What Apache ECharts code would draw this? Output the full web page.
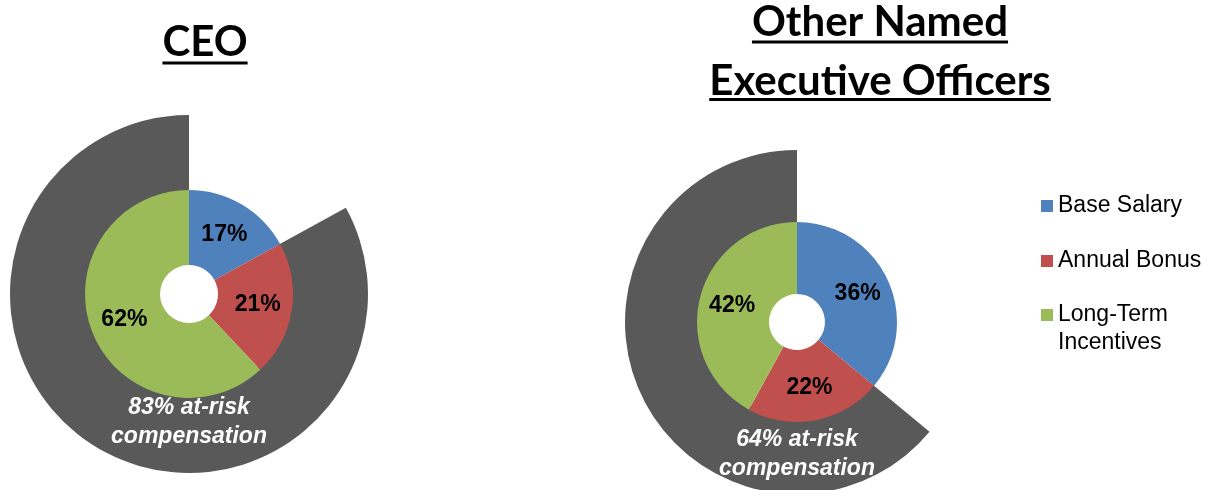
<!DOCTYPE html>
<html>
<head>
<meta charset="utf-8">
<script src="https://cdn.jsdelivr.net/npm/echarts@6/dist/echarts.min.js"></script>
<style>
html,body{margin:0;padding:0;background:#fff;}
#chart{width:1207px;height:490px;}
</style>
</head>
<body>
<div id="chart"></div>
<script>
// ---- data ----
const categories = ['Base Salary', 'Annual Bonus', 'Long-Term Incentives'];
const ceoValues = [17, 21, 62];
const neoValues = [36, 22, 42];
const ceoAtRisk = 83;
const neoAtRisk = 64;
const ceoTitle = ['CEO'];
const neoTitle = ['Other Named', 'Executive Officers'];
const atRiskLabel = 'at-risk\ncompensation';

// ---- styling / layout ----
const colors = ['#4F81BD', '#C0504D', '#9BBB59'];
const darkColor = '#595959';
const ceoLayout = {cx: 189, cy: 294, hole: 29, inner: 104, outer: 179, labelDy: 128, titleX: 205, titleY: [42], lineY: [63]};
const neoLayout = {cx: 797, cy: 322, hole: 28, inner: 100, outer: 172, labelDy: 132, titleX: 880, titleY: [22, 81], lineY: [42, 99.5]};
const titleFont = {size: 42, weight: 'bold', family: 'Lato'};
const labelFamily = '"Liberation Sans", Arial, sans-serif';

const chart = echarts.init(document.getElementById('chart'), null, {renderer: 'canvas'});

function ringSeries(values, atRisk, L) {
  return {
    type: 'pie', silent: true, animation: false,
    center: [L.cx, L.cy], radius: [L.inner - 4, L.outer],
    startAngle: 90, clockwise: true, avoidLabelOverlap: false,
    label: {show: false}, labelLine: {show: false},
    emphasis: {disabled: true},
    data: [
      {name: 'gap', value: values[0], itemStyle: {color: 'rgba(0,0,0,0)'}},
      {name: 'At-risk', value: atRisk, itemStyle: {color: darkColor}}
    ]
  };
}
function innerSeries(values, L) {
  return {
    type: 'pie', animation: false,
    center: [L.cx, L.cy], radius: [L.hole, L.inner],
    startAngle: 90, clockwise: true, avoidLabelOverlap: false,
    itemStyle: {borderWidth: 0},
    label: {show: true, position: 'inside', formatter: '{c}%', color: '#000',
            fontSize: 23, fontWeight: 'bold', fontFamily: labelFamily, textBorderWidth: 0},
    labelLine: {show: false},
    emphasis: {scale: false},
    data: categories.map((c, i) => ({name: c, value: values[i], itemStyle: {color: colors[i]}}))
  };
}

const measureCtx = document.createElement('canvas').getContext('2d');
function titleGraphics(lines, L) {
  const out = [];
  measureCtx.font = titleFont.weight + ' ' + titleFont.size + 'px ' + titleFont.family;
  lines.forEach((t, i) => {
    const w = measureCtx.measureText(t).width;
    out.push({type: 'text', silent: true, z: 100, style: {
      text: t, x: L.titleX, y: L.titleY[i], align: 'center', verticalAlign: 'middle',
      fontSize: titleFont.size, fontWeight: titleFont.weight, fontFamily: titleFont.family, fill: '#000'}});
    out.push({type: 'rect', silent: true, z: 100, shape: {x: L.titleX - w / 2, y: L.lineY[i] - 1.5, width: w, height: 3},
      style: {fill: '#000'}});
  });
  return out;
}
function atRiskGraphic(atRisk, L) {
  return {type: 'text', silent: true, z: 100, style: {
    text: atRisk + '% ' + atRiskLabel, x: L.cx, y: L.cy + L.labelDy,
    align: 'center', verticalAlign: 'middle', lineHeight: 29,
    fontSize: 23, fontWeight: 'bold', fontStyle: 'italic', fontFamily: labelFamily, fill: '#fff'}};
}

const legendText = {fontSize: 23, fontFamily: labelFamily, color: '#000', lineHeight: 28};
const option = {
  backgroundColor: '#fff',
  animation: false,
  legend: [
    {orient: 'vertical', left: 1041, top: 192, padding: 0, itemGap: 27,
     itemWidth: 12, itemHeight: 12, icon: 'rect', selectedMode: false,
     data: categories.slice(0, 2), textStyle: legendText},
    {orient: 'vertical', left: 1041, top: 273, padding: 0,
     itemWidth: 12, itemHeight: 12, icon: 'rect', selectedMode: false,
     data: categories.slice(2), textStyle: legendText,
     formatter: n => ' \n' + n.replace(' ', '\n')}
  ],
  series: [
    ringSeries(ceoValues, ceoAtRisk, ceoLayout),
    innerSeries(ceoValues, ceoLayout),
    ringSeries(neoValues, neoAtRisk, neoLayout),
    innerSeries(neoValues, neoLayout)
  ],
  graphic: [
    ...titleGraphics(ceoTitle, ceoLayout),
    ...titleGraphics(neoTitle, neoLayout),
    atRiskGraphic(ceoAtRisk, ceoLayout),
    atRiskGraphic(neoAtRisk, neoLayout)
  ]
};
chart.setOption(option);
</script>
</body>
</html>
